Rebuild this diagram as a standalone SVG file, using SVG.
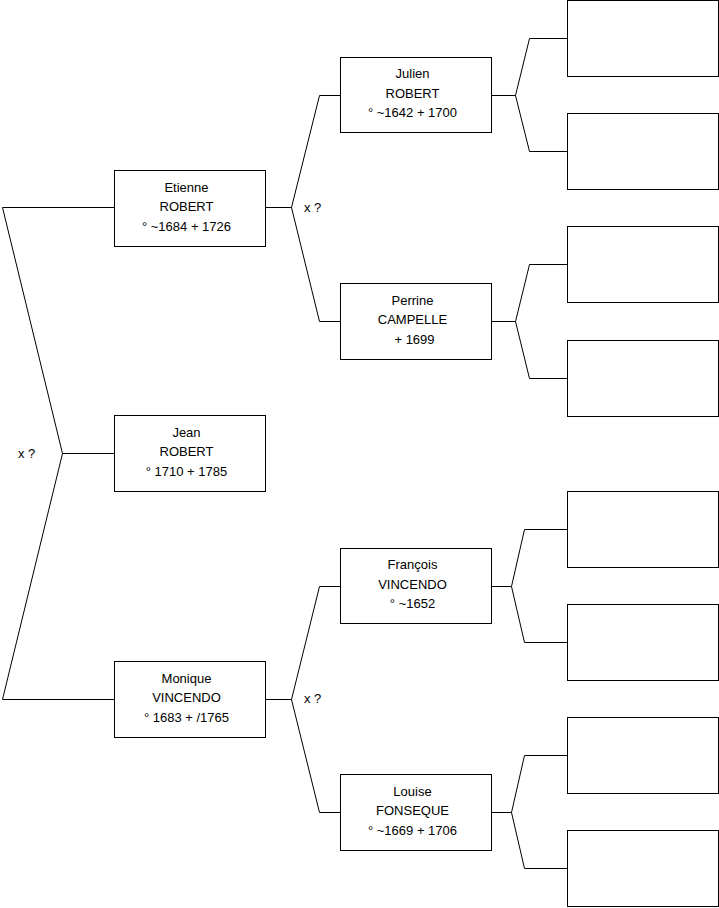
<svg xmlns="http://www.w3.org/2000/svg" width="719" height="908" viewBox="0 0 719 908">
<style>
.b{fill:#fff;stroke:#000;stroke-width:1}
path{fill:none;stroke:#000;stroke-width:1}
text{font-family:"Liberation Sans",Arial,sans-serif;font-size:13px;fill:#000;text-anchor:middle}
.l{text-anchor:start}
</style>
<rect width="719" height="908" fill="#fff"/>
<g id="connectors">
<path d="M114.5 207.5 H2.5 L62.5 453.5 L2.5 699.5 H114.5 M62.5 453.5 H114.5"/>
<path d="M265.5 207.5 H291.5 M340.5 95.5 H319.5 L291.5 207.5 L319.5 321.5 H340.5"/>
<path d="M265.5 699.5 H291.5 M340.5 586.5 H319.5 L291.5 699.5 L319.5 812.5 H340.5"/>
<path d="M491.5 95.5 H515.5 M567.5 38.5 H529.5 L515.5 95.5 L529.5 151.5 H567.5"/>
<path d="M491.5 321.5 H515.5 M567.5 264.5 H529.5 L515.5 321.5 L529.5 378.5 H567.5"/>
<path d="M491.5 586.5 H511.5 M567.5 529.5 H524.5 L511.5 586.5 L524.5 642.5 H567.5"/>
<path d="M491.5 812.5 H511.5 M567.5 755.5 H524.5 L511.5 812.5 L524.5 868.5 H567.5"/>
<text class="l" x="18" y="457.5">x ?</text>
<text class="l" x="304" y="211.5">x ?</text>
<text class="l" x="304" y="703">x ?</text>
</g>
<g id="etienne"><rect class="b" x="114.5" y="170.5" width="151" height="76"/><text x="186.5" y="191.5">Etienne</text><text x="186.5" y="211">ROBERT</text><text x="186.5" y="230.5">° ~1684 + 1726</text></g>
<g id="jean"><rect class="b" x="114.5" y="415.5" width="151" height="76"/><text x="186.5" y="436.5">Jean</text><text x="186.5" y="456">ROBERT</text><text x="186.5" y="475.5">° 1710 + 1785</text></g>
<g id="monique"><rect class="b" x="114.5" y="661.5" width="151" height="76"/><text x="186.5" y="682.5">Monique</text><text x="186.5" y="702">VINCENDO</text><text x="186.5" y="721.5">° 1683 + /1765</text></g>
<g id="julien"><rect class="b" x="340.5" y="57.5" width="151" height="75"/><text x="412.5" y="78">Julien</text><text x="412.5" y="97.5">ROBERT</text><text x="412.5" y="117">° ~1642 + 1700</text></g>
<g id="perrine"><rect class="b" x="340.5" y="283.5" width="151" height="76"/><text x="412.5" y="304.5">Perrine</text><text x="412.5" y="324">CAMPELLE</text><text x="414.5" y="343.5">+ 1699</text></g>
<g id="francois"><rect class="b" x="340.5" y="548.5" width="151" height="75"/><text x="412.5" y="569">François</text><text x="412.5" y="588.5">VINCENDO</text><text x="412.5" y="608">° ~1652</text></g>
<g id="louise"><rect class="b" x="340.5" y="774.5" width="151" height="76"/><text x="412.5" y="795.5">Louise</text><text x="412.5" y="815">FONSEQUE</text><text x="412.5" y="834.5">° ~1669 + 1706</text></g>
<g id="g3a"><rect class="b" x="567.5" y="0.5" width="151" height="76"/></g>
<g id="g3b"><rect class="b" x="567.5" y="113.5" width="151" height="76"/></g>
<g id="g3c"><rect class="b" x="567.5" y="226.5" width="151" height="76"/></g>
<g id="g3d"><rect class="b" x="567.5" y="340.5" width="151" height="76"/></g>
<g id="g3e"><rect class="b" x="567.5" y="491.5" width="151" height="76"/></g>
<g id="g3f"><rect class="b" x="567.5" y="604.5" width="151" height="76"/></g>
<g id="g3g"><rect class="b" x="567.5" y="717.5" width="151" height="76"/></g>
<g id="g3h"><rect class="b" x="567.5" y="830.5" width="151" height="76"/></g>
</svg>
